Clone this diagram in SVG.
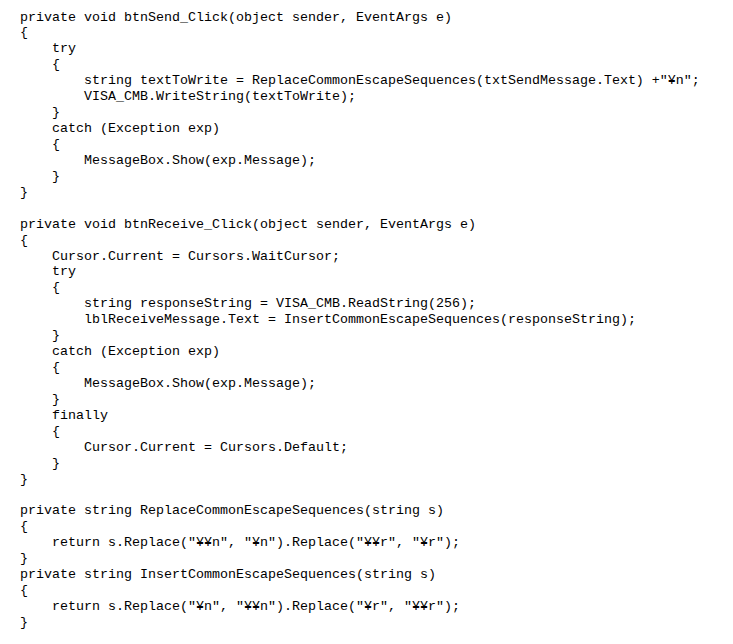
<svg xmlns="http://www.w3.org/2000/svg" width="733" height="644" viewBox="0 0 733 644">
<style>
text{font-family:"Liberation Mono","DejaVu Sans Mono","Noto Sans CJK JP",monospace;font-size:13.33px;fill:#000;white-space:pre}
</style>
<rect width="733" height="644" fill="#fff"/>
<g id="btnSend_Click">
<text x="20" y="20.5">private void btnSend_Click(object sender, EventArgs e)</text>
<text x="20" y="36.4">{</text>
<text x="52" y="52.4">try</text>
<text x="52" y="68.3">{</text>
<text x="84" y="84.2">string textToWrite = ReplaceCommonEscapeSequences(txtSendMessage.Text) +"¥n";</text>
<text x="84" y="100.2">VISA_CMB.WriteString(textToWrite);</text>
<text x="52" y="116.1">}</text>
<text x="52" y="132.0">catch (Exception exp)</text>
<text x="52" y="147.9">{</text>
<text x="84" y="163.9">MessageBox.Show(exp.Message);</text>
<text x="52" y="179.8">}</text>
<text x="20" y="195.7">}</text>
</g>
<g id="btnReceive_Click">
<text x="20" y="227.6">private void btnReceive_Click(object sender, EventArgs e)</text>
<text x="20" y="243.5">{</text>
<text x="52" y="259.5">Cursor.Current = Cursors.WaitCursor;</text>
<text x="52" y="275.4">try</text>
<text x="52" y="291.3">{</text>
<text x="84" y="307.2">string responseString = VISA_CMB.ReadString(256);</text>
<text x="84" y="323.2">lblReceiveMessage.Text = InsertCommonEscapeSequences(responseString);</text>
<text x="52" y="339.1">}</text>
<text x="52" y="355.0">catch (Exception exp)</text>
<text x="52" y="371.0">{</text>
<text x="84" y="386.9">MessageBox.Show(exp.Message);</text>
<text x="52" y="402.8">}</text>
<text x="52" y="418.7">finally</text>
<text x="52" y="434.7">{</text>
<text x="84" y="450.6">Cursor.Current = Cursors.Default;</text>
<text x="52" y="466.5">}</text>
<text x="20" y="482.5">}</text>
</g>
<g id="ReplaceCommonEscapeSequences">
<text x="20" y="514.3">private string ReplaceCommonEscapeSequences(string s)</text>
<text x="20" y="530.3">{</text>
<text x="52" y="546.2">return s.Replace("¥¥n", "¥n").Replace("¥¥r", "¥r");</text>
<text x="20" y="562.1">}</text>
</g>
<g id="InsertCommonEscapeSequences">
<text x="20" y="578.1">private string InsertCommonEscapeSequences(string s)</text>
<text x="20" y="594.0">{</text>
<text x="52" y="609.9">return s.Replace("¥n", "¥¥n").Replace("¥r", "¥¥r");</text>
<text x="20" y="625.8">}</text>
</g>
</svg>
